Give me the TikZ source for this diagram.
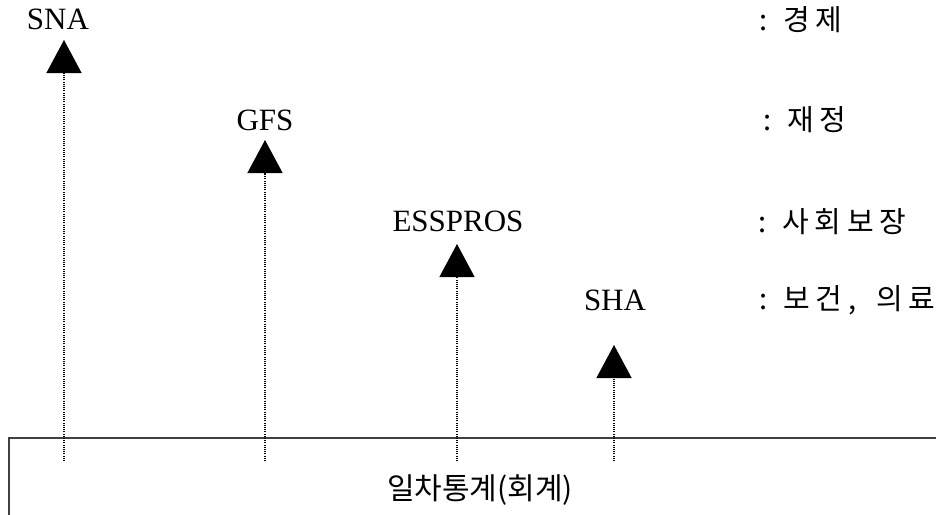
\documentclass[tikz,border=0pt]{standalone}
\usepackage{fontspec}
\setmainfont{Liberation Serif}
\newfontfamily\kr{Noto Sans CJK KR}
\newfontfamily\krs[LetterSpace=20]{Noto Sans CJK KR}
\usetikzlibrary{arrows.meta}
\begin{document}
\begin{tikzpicture}[x=1pt,y=-1pt,
  lbl/.style={inner sep=0pt,font=\fontsize{31}{33}\selectfont},
  krl/.style={inner sep=0pt,anchor=west,font=\fontsize{29}{32}\selectfont\krs},
  conn/.style={line width=1.3pt,dash pattern=on 1pt off 1.2pt,
    -{Triangle[width=35pt,length=33pt,fill=black]}},
  basebox/.style={draw=black!75,line width=1.5pt}]
\useasboundingbox (0,0) rectangle (936,514);
% box (open on right and bottom)
\draw[basebox] (9,516) -- (9,438) -- (938,438);
\node[inner sep=0pt,font=\fontsize{30}{32}\selectfont\kr] (base) at (480,490) {일차통계(회계)};
% labels
\node[lbl] (sna) at (58,19) {SNA};
\node[lbl] (gfs) at (265,120) {GFS};
\node[lbl] (ess) at (458,221) {ESSPROS};
\node[lbl] (sha) at (615,300) {SHA};
% apex coordinates and bottoms
\coordinate (snaT) at (64,40);  \coordinate (snaB) at (64,461);
\coordinate (gfsT) at (265,140); \coordinate (gfsB) at (265,461);
\coordinate (essT) at (457,244); \coordinate (essB) at (457,461);
\coordinate (shaT) at (614,345); \coordinate (shaB) at (614,461);
\draw[conn] (snaB) -- (snaT);
\draw[conn] (gfsB) -- (gfsT);
\draw[conn] (essB) -- (essT);
\draw[conn] (shaB) -- (shaT);
% korean descriptions
\node[krl] (d1) at (759,20) {:\hspace{16pt}경제};
\node[krl] (d2) at (763,120) {:\hspace{16pt}재정};
\node[krl] (d3) at (758,222) {:\hspace{16pt}사회보장};
\node[krl] (d4) at (759,300) {:\hspace{16pt}보건,\hspace{20pt}의료};
\end{tikzpicture}
\end{document}
